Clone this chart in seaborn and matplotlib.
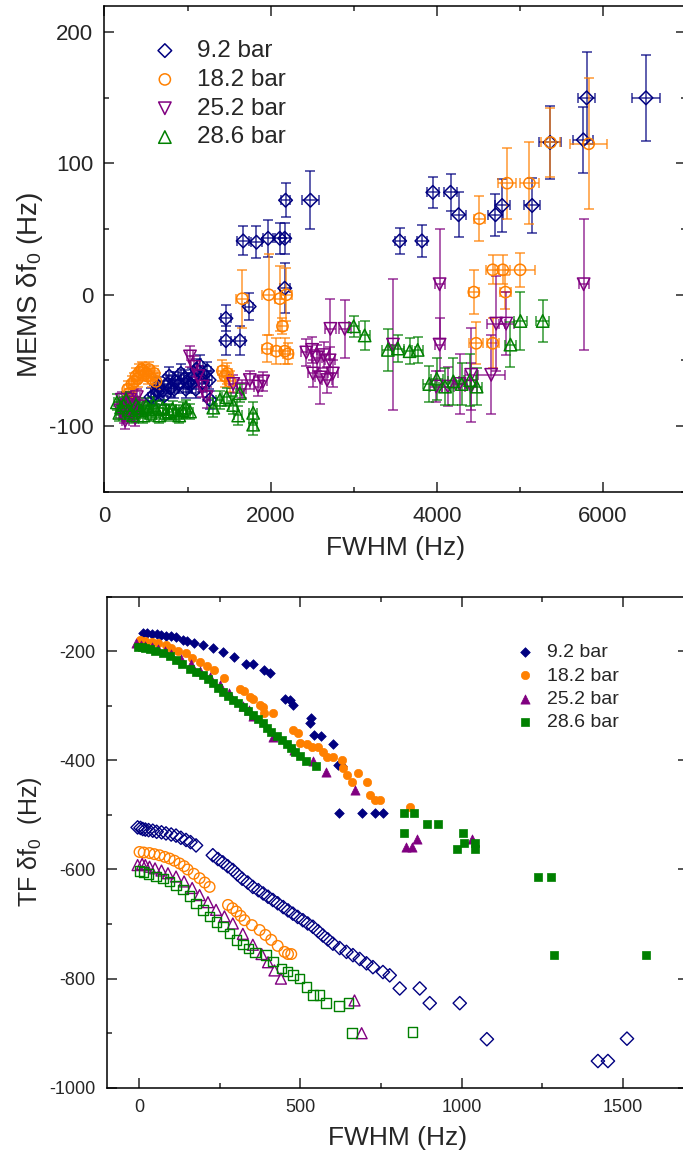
import seaborn as sns
import matplotlib.pyplot as plt
from matplotlib.ticker import MultipleLocator

sns.set_style("ticks")
plt.rcParams['font.family'] = ['Liberation Sans', 'DejaVu Sans']
plt.rcParams['mathtext.fontset'] = 'custom'
plt.rcParams['mathtext.rm'] = 'Liberation Sans'
plt.rcParams['mathtext.it'] = 'Liberation Sans:italic'
plt.rcParams['axes.unicode_minus'] = False

labels = ['9.2 bar', '18.2 bar', '25.2 bar', '28.6 bar']
colors = ['#000080', '#ff8000', '#800080', '#008000']

# ---- top panel: MEMS shift vs FWHM (with error bars) ----
mems_92_x = [560, 600, 640, 650, 700, 720, 760, 780, 800, 840, 850, 900, 920, 960, 980,
             1000, 1040, 1060, 1100, 1109, 1149, 1180, 1200, 1240, 1260, 1270,
             1462, 1462, 1630, 1670, 1742, 1830, 1970, 2110, 2170, 2170, 2180, 2480,
             3553, 3821, 3953, 4166, 4262, 4707, 4787, 5148, 5364, 5764, 5804, 6518]
mems_92_y = [-78, -76, -74, -70, -73, -77, -68, -62, -71, -72, -66, -68, -60, -64, -72,
             -67, -68, -63, -72, -57, -54, -67, -61, -58, -65, -80,
             -18, -35, -35, 41, -9, 40, 43, 43, 43, 5, 72, 72,
             41, 41, 78, 78, 61, 61, 68, 68, 116, 118, 150, 150]
mems_92_xe = [40, 40, 40, 40, 40, 40, 40, 40, 40, 40, 40, 40, 40, 40, 40,
              40, 40, 40, 40, 40, 40, 40, 40, 40, 40, 40,
              60, 60, 60, 70, 50, 70, 60, 60, 60, 60, 50, 100,
              60, 60, 70, 80, 90, 90, 90, 100, 130, 120, 100, 170]
mems_92_ye = [7, 7, 7, 7, 7, 7, 7, 7, 7, 7, 7, 7, 7, 7, 7,
              7, 7, 7, 7, 8, 8, 7, 7, 7, 7, 7,
              10, 11, 11, 11, 10, 12, 14, 12, 12, 19, 13, 22,
              10, 12, 12, 14, 17, 16, 20, 21, 28, 25, 35, 33]

mems_182_x = [280, 300, 330, 360, 380, 400, 420, 450, 470, 500, 520, 540, 570, 600, 620,
              1420, 1450, 1480, 1510,
              1658, 1962, 1978, 2070, 2111, 2143, 2170, 2190, 2210,
              4446, 4474, 4514, 4674, 4674, 4795, 4827, 4847, 5003, 5115, 5368, 5829]
mems_182_y = [-72, -75, -68, -66, -62, -64, -59, -57, -58, -60, -62, -57, -64, -60, -66,
              -58, -62, -60, -66,
              -3, -41, 0, -43, -3, -24, -43, 0, -45,
              2, -37, 58, 19, -37, 19, 2, 85, 19, 85, 116, 115]
mems_182_xe = [40, 40, 40, 40, 40, 40, 40, 40, 40, 40, 40, 40, 40, 40, 40,
               50, 50, 50, 50,
               70, 60, 80, 60, 60, 50, 60, 70, 60,
               60, 80, 70, 80, 70, 90, 70, 110, 180, 110, 110, 220]
mems_182_ye = [6, 6, 6, 6, 6, 6, 6, 6, 6, 6, 6, 6, 6, 6, 6,
               8, 8, 8, 8,
               22, 10, 31, 10, 25, 6, 10, 20, 8,
               17, 16, 17, 11, 19, 11, 13, 27, 13, 31, 26, 50]

mems_252_x = [190, 210, 230, 250, 270, 290, 310, 330, 350, 370, 390, 420,
              1030, 1080, 1130, 1180, 1230,
              1550, 1650, 1750, 1850, 1910, 2430, 2500, 2560, 2640, 2710,
              2510, 2600, 2680, 2750, 2720, 2892, 3473,
              3994, 4034, 4034, 4134, 4274, 4414, 4414, 4655, 4715, 4835, 5768]
mems_252_y = [-88, -80, -92, -96, -84, -90, -80, -82, -86, -94, -78, -85,
              -47, -55, -62, -70, -78,
              -68, -72, -65, -70, -66, -44, -42, -48, -46, -50,
              -60, -63, -65, -60, -26, -26, -38,
              -70, 8, -38, -70, -68, -70, -61, -61, -22, -22, 8]
mems_252_xe = [40, 40, 40, 40, 40, 40, 40, 40, 40, 40, 40, 40,
               40, 40, 40, 40, 40,
               50, 50, 50, 50, 50, 60, 60, 60, 60, 60,
               60, 60, 60, 60, 70, 70, 60,
               70, 60, 60, 70, 70, 70, 80, 170, 110, 90, 60]
mems_252_ye = [6, 6, 6, 6, 6, 6, 6, 6, 6, 6, 6, 6,
               8, 8, 8, 8, 8,
               7, 7, 7, 7, 7, 10, 10, 10, 10, 10,
               10, 20, 10, 10, 23, 22, 50,
               12, 42, 20, 15, 23, 18, 36, 30, 36, 24, 50]

mems_286_x = [150, 180, 200, 230, 260, 290, 320, 350, 380, 410, 440, 470, 500, 530, 560,
              590, 620, 660, 700, 740, 780, 820, 860, 900, 940, 980, 1030,
              1310, 1390, 1470, 1550, 1610, 1630, 1790, 1790,
              3000, 3132, 3412, 3532, 3673, 3770,
              3910, 4000, 4100, 4200, 4300, 4400, 4480, 4887, 5007, 5275]
mems_286_y = [-82, -90, -86, -84, -80, -88, -90, -92, -84, -86, -88, -92, -85, -87, -90,
              -84, -87, -92, -86, -90, -89, -87, -90, -92, -88, -86, -89,
              -86, -80, -78, -84, -92, -75, -90, -99,
              -24, -31, -42, -41, -43, -42,
              -68, -64, -70, -66, -68, -65, -70, -38, -20, -20]
mems_286_xe = [40, 40, 40, 40, 40, 40, 40, 40, 40, 40, 40, 40, 40, 40, 40,
               40, 40, 40, 40, 40, 40, 40, 40, 40, 40, 40, 40,
               50, 50, 50, 50, 50, 50, 50, 50,
               60, 60, 70, 70, 70, 70,
               70, 70, 70, 70, 70, 70, 70, 70, 80, 80]
mems_286_ye = [6, 6, 6, 6, 6, 6, 6, 6, 6, 6, 6, 6, 6, 6, 6,
               6, 6, 6, 6, 6, 6, 6, 6, 6, 6, 6, 6,
               7, 7, 7, 7, 7, 7, 8, 8,
               8, 11, 16, 10, 10, 10,
               14, 16, 14, 18, 16, 20, 14, 17, 22, 16]

# ---- bottom panel: TF shift vs FWHM ----
tf_92_fx = [12, 25, 40, 55, 70, 85, 100, 115, 136, 150, 172, 200, 229, 260, 296, 333, 353,
            389, 405, 452, 467, 477, 531, 534, 544, 564, 601, 617, 630, 619, 691, 730, 757]
tf_92_fy = [-166, -167, -168, -169, -170, -172, -173, -175, -179, -181, -185, -189, -195,
            -201, -210, -223, -223, -235, -241, -288, -290, -299, -332, -323, -354, -356,
            -370, -409, -410, -497, -497, -497, -497]
tf_182_fx = [2, 20, 42, 60, 85, 100, 120, 146, 166, 190, 212, 234, 265, 312, 327, 343, 353,
             374, 384, 389, 414, 476, 492, 498, 520, 535, 555, 570, 582, 601, 630, 631,
             645, 659, 678, 708, 715, 730, 746, 839]
tf_182_fy = [-180, -181, -183, -185, -189, -195, -199, -204, -213, -220, -228, -235, -250,
             -270, -273, -284, -288, -299, -303, -314, -314, -345, -350, -368, -371, -375,
             -375, -385, -394, -394, -400, -414, -427, -440, -424, -440, -464, -473, -473, -485]
tf_252_fx = [-8, 5, 20, 40, 60, 80, 100, 130, 160, 190, 220, 250, 280, 322, 340, 353,
             415, 480, 540, 581, 668, 827, 845, 862, 1033]
tf_252_fy = [-186, -188, -190, -193, -196, -200, -205, -214, -224, -236, -248, -262, -277,
             -300, -308, -318, -357, -382, -402, -421, -455, -559, -559, -545, -545]
tf_286_fx = [-4, 10, 20, 33, 50, 74, 95, 115, 135, 157, 178, 198, 214, 229, 245, 260, 276,
             291, 306, 322, 338, 353, 369, 384, 397, 410, 427, 444, 458, 472, 485, 498, 518,
             549, 820, 852, 894, 928, 820, 1005, 1007, 1041, 987, 1041, 1237, 1276, 1286, 1571]
tf_286_fy = [-192, -193, -195, -197, -200, -204, -209, -216, -224, -232, -238, -244, -251,
             -259, -267, -275, -282, -290, -296, -302, -309, -317, -324, -332, -340, -348,
             -355, -363, -370, -378, -385, -392, -401, -410, -497, -497, -516, -516, -534,
             -534, -551, -551, -563, -563, -614, -614, -756, -756]

tf_92_ox = [-4, 5, 12, 20, 30, 43, 55, 70, 84, 100, 115, 130, 146, 160, 177, 229, 245, 260,
            275, 291, 305, 320, 337, 353, 370, 385, 400, 415, 430, 447, 462, 477, 492, 508,
            523, 539, 555, 570, 585, 601, 622, 643, 663, 684, 705, 725, 756, 777, 808, 870,
            901, 994, 1078, 1422, 1453, 1512]
tf_92_oy = [-523, -524, -526, -527, -528, -529, -531, -532, -534, -536, -538, -542, -546,
            -550, -556, -574, -581, -587, -594, -601, -609, -617, -624, -632, -638, -644,
            -650, -656, -662, -669, -675, -681, -687, -693, -699, -705, -713, -721, -728,
            -736, -744, -751, -757, -764, -772, -779, -788, -794, -818, -818, -845, -845,
            -911, -951, -951, -910]
tf_182_ox = [2, 15, 33, 48, 64, 80, 95, 110, 126, 140, 151, 170, 188, 204, 219, 276, 290,
             302, 315, 327, 350, 374, 392, 410, 430, 451, 462, 472]
tf_182_oy = [-568, -569, -570, -572, -574, -577, -580, -584, -589, -594, -600, -608, -616,
             -624, -632, -665, -671, -677, -685, -693, -702, -711, -720, -729, -740, -751,
             -755, -755]
tf_252_ox = [-4, 10, 20, 33, 50, 70, 90, 115, 140, 165, 188, 214, 239, 265, 291, 322, 353,
             380, 400, 420, 440, 668, 690]
tf_252_oy = [-592, -590, -592, -595, -598, -602, -607, -613, -622, -634, -647, -660, -674,
             -686, -699, -718, -738, -755, -770, -785, -800, -840, -900]
tf_286_ox = [2, 15, 30, 53, 75, 95, 115, 136, 156, 177, 198, 219, 240, 260, 281, 302, 322,
             340, 360, 394, 415, 441, 460, 477, 497, 520, 540, 560, 580, 620, 650, 660, 848]
tf_286_oy = [-603, -605, -608, -613, -617, -622, -629, -637, -649, -662, -674, -686, -696,
             -705, -717, -729, -738, -745, -752, -757, -769, -781, -787, -793, -800, -815,
             -830, -830, -845, -850, -845, -900, -898]

fig = plt.figure(figsize=(6.83, 11.5), dpi=100)
ax1 = fig.add_axes([0.1529, 0.5725, 0.8515, 0.4223])
ax2 = fig.add_axes([0.1561, 0.0541, 0.8507, 0.4272])

# top panel
top_series = [
    (mems_92_x, mems_92_y, mems_92_xe, mems_92_ye, 'D', 48),
    (mems_182_x, mems_182_y, mems_182_xe, mems_182_ye, 'o', 65),
    (mems_252_x, mems_252_y, mems_252_xe, mems_252_ye, 'v', 80),
    (mems_286_x, mems_286_y, mems_286_xe, mems_286_ye, '^', 80),
]
for (xs, ys, xe, ye, m, s), lab, c in zip(top_series, labels, colors):
    ax1.errorbar(xs, ys, xerr=xe, yerr=ye, fmt='none', ecolor=c, elinewidth=1.1,
                 capsize=3.5, capthick=1.1, alpha=0.8, zorder=2)
    sns.scatterplot(x=xs, y=ys, marker=m, s=s, facecolor='none', edgecolor=c,
                    linewidth=1.1, label=lab, ax=ax1, zorder=3)

ax1.set_xlim(0, 7000)
ax1.set_ylim(-150, 220)
ax1.xaxis.set_major_locator(MultipleLocator(2000))
ax1.xaxis.set_minor_locator(MultipleLocator(1000))
ax1.yaxis.set_major_locator(MultipleLocator(100))
ax1.yaxis.set_minor_locator(MultipleLocator(50))
ax1.set_xlabel('FWHM (Hz)', fontsize=19)
ax1.set_ylabel(r'MEMS δf$_0$ (Hz)', fontsize=20)
ax1.tick_params(axis='both', labelsize=16, pad=8)
ax1.tick_params(axis='x', pad=10)
ax1.legend(loc='upper left', bbox_to_anchor=(0.083, 0.93), frameon=False, fontsize=17.5,
           borderaxespad=0, borderpad=0, handlelength=1.0, handletextpad=0.82,
           labelspacing=0.28)

# bottom panel
bot_filled = [(tf_92_fx, tf_92_fy, 'D', 24), (tf_182_fx, tf_182_fy, 'o', 36),
              (tf_252_fx, tf_252_fy, '^', 44), (tf_286_fx, tf_286_fy, 's', 34)]
bot_open = [(tf_92_ox, tf_92_oy, 'D', 46), (tf_182_ox, tf_182_oy, 'o', 58),
            (tf_252_ox, tf_252_oy, '^', 62), (tf_286_ox, tf_286_oy, 's', 46)]
for (xs, ys, m, s), lab, c in zip(bot_filled, labels, colors):
    sns.scatterplot(x=xs, y=ys, marker=m, s=s, color=c, edgecolor=c, linewidth=0.5,
                    label=lab, ax=ax2, zorder=3)
for (xs, ys, m, s), c in zip(bot_open, colors):
    sns.scatterplot(x=xs, y=ys, marker=m, s=s, facecolor='none', edgecolor=c,
                    linewidth=1.0, ax=ax2, zorder=3)

ax2.set_xlim(-100, 1700)
ax2.set_ylim(-1000, -100)
ax2.xaxis.set_major_locator(MultipleLocator(500))
ax2.xaxis.set_minor_locator(MultipleLocator(250))
ax2.yaxis.set_major_locator(MultipleLocator(200))
ax2.yaxis.set_minor_locator(MultipleLocator(100))
ax2.set_xlabel('FWHM (Hz)', fontsize=19)
ax2.set_ylabel(r'TF δf$_0$  (Hz)', fontsize=18)
ax2.tick_params(axis='both', labelsize=13, pad=8)
ax2.legend(loc='upper left', bbox_to_anchor=(0.707, 0.904), frameon=False, fontsize=14,
           borderaxespad=0, borderpad=0, handlelength=0.8, handletextpad=0.73,
           labelspacing=0.29)

for ax in (ax1, ax2):
    ax.tick_params(which='both', direction='in', top=True, right=True, width=1.1)
    ax.tick_params(which='major', length=7)
    ax.tick_params(which='minor', length=3.5)
    for sp in ax.spines.values():
        sp.set_linewidth(1.1)
        sp.set_color('black')
    ax.xaxis.label.set_va('center')
    ax.yaxis.label.set(ha='center', va='center', rotation_mode='default')

ax1.xaxis.set_label_coords(0.5, -0.116)
ax1.yaxis.set_label_coords(-0.128, 0.425)
ax2.xaxis.set_label_coords(0.5, -0.102)
ax2.yaxis.set_label_coords(-0.132, 0.5)

fig.savefig('out.png', dpi=100)
